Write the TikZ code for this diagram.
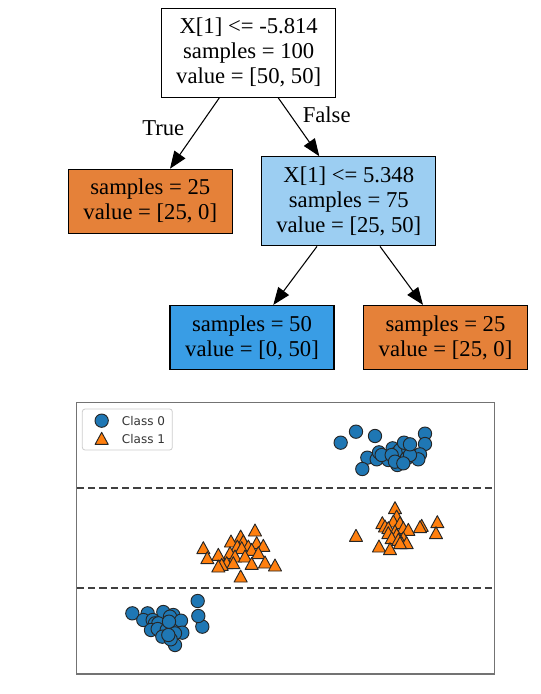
\documentclass[tikz,border=0pt]{standalone}
\usepackage{fontspec}
\setmainfont{Liberation Serif}
\newfontfamily\legendfont{DejaVu Sans}
\usepackage{tikz}
\usetikzlibrary{calc}
\usetikzlibrary{arrows.meta}
\definecolor{leafor}{RGB}{229,129,57}
\definecolor{leafbl}{RGB}{57,157,229}
\definecolor{splitbl}{RGB}{156,206,242}
\definecolor{tabblue}{RGB}{31,119,180}
\definecolor{taborange}{RGB}{255,127,14}
\newcommand{\dotA}[2]{ \draw[fill=tabblue, draw=black!85, line width=0.7pt] ( #1 , #2 ) circle (5pt);}
\newcommand{\triB}[2]{ \draw[fill=taborange, draw=black!85, line width=0.7pt, line join=round] ( #1 , #2 ) ++(0pt,5pt) -- ++(-4.9pt,-9pt) -- ++(9.8pt,0pt) -- cycle;}
\tikzset{
  treenode/.style={draw=black, line width=0.9pt, align=center, inner sep=0pt,
    font=\fontsize{17}{18.75}\selectfont},
  bignode/.style={treenode, minimum width=130.5pt, minimum height=66.75pt},
  leafnode/.style={treenode, minimum width=123pt, minimum height=48pt},
  edge/.style={line width=0.8pt, -{Triangle[length=13pt, width=10pt]}},
  edgelabel/.style={font=\fontsize{17}{18.75}\selectfont, inner sep=0pt}
}

\begin{document}
\begin{tikzpicture}[x=0.75pt, y=-0.75pt]
        \useasboundingbox (0,0) rectangle (541,694);

        % tree
        \node[bignode, fill=white] (root) at (248.7,52.8) {X[1] <= -5.814\\samples = 100\\value = [50, 50]};
        \node[leafnode, fill=leafor] (leafT) at (150.3,201.3) {samples = 25\\value = [25, 0]};
        \node[bignode, fill=splitbl] (split) at (348.8,201.3) {X[1] <= 5.348\\samples = 75\\value = [25, 50]};
        \node[leafnode, fill=leafbl] (leafL) at (252,337.5) {samples = 50\\value = [0, 50]};
        \node[leafnode, fill=leafor] (leafR) at (445.5,337.5) {samples = 25\\value = [25, 0]};

        \draw[edge] ($(root.south)+(-29.4,0)$) -- ($(leafT.north)+(19.7,0)$);
        \draw[edge] ($(root.south)+(29.6,0)$) -- ($(split.north)+(-29.5,0)$);
        \draw[edge] ($(split.south)+(-31.8,0)$) -- ($(leafL.north)+(21.3,0)$);
        \draw[edge] ($(split.south)+(31.2,0)$) -- ($(leafR.north)+(-22.5,0)$);
        \node[edgelabel] (lblT) at (163.3,127.7) {True};
        \node[edgelabel] (lblF) at (326.7,115) {False};

        % scatter
        \begin{scope}[x=0.25pt, y=-0.25pt, shift={(225,1200)}]
        \draw[black!55, line width=0.8pt] (5,8) rectangle (1258,822);
        \draw[black!75, line width=1.4pt, dash pattern=on 5.5pt off 3pt] (5,265) -- (1258,265);
        \draw[black!75, line width=1.4pt, dash pattern=on 5.5pt off 3pt] (5,565) -- (1258,565);

        % class 0, top right
        \dotA{797}{128} \dotA{843}{95} \dotA{900}{108} \dotA{1050}{101} \dotA{1050}{132}
        \dotA{877}{173} \dotA{862}{207} \dotA{905}{178} \dotA{912}{157} \dotA{940}{180}
        \dotA{953}{145} \dotA{965}{160} \dotA{967}{195} \dotA{975}{150} \dotA{920}{165}
        \dotA{950}{165} \dotA{1000}{150} \dotA{995}{175} \dotA{960}{185} \dotA{1035}{163}
        \dotA{1030}{178} \dotA{1005}{165} \dotA{987}{128} \dotA{1005}{133} \dotA{985}{190}
        % class 0, bottom left
        \dotA{172}{640} \dotA{218}{640} \dotA{205}{660} \dotA{233}{660} \dotA{265}{636}
        \dotA{295}{645} \dotA{285}{650} \dotA{240}{670} \dotA{260}{680} \dotA{310}{680}
        \dotA{250}{670} \dotA{318}{662} \dotA{228}{690} \dotA{248}{687} \dotA{275}{690}
        \dotA{322}{698} \dotA{300}{700} \dotA{262}{710} \dotA{300}{735} \dotA{287}{718}
        \dotA{280}{705} \dotA{282}{665} \dotA{368}{603} \dotA{382}{680} \dotA{370}{648}

        % class 1, middle left
        \triB{540}{392} \triB{497}{410} \triB{468}{425} \triB{505}{425} \triB{385}{445}
        \triB{545}{430} \triB{565}{438} \triB{487}{440} \triB{520}{440} \triB{500}{445}
        \triB{530}{450} \triB{465}{460} \triB{550}{460} \triB{430}{465} \triB{480}{470}
        \triB{510}{470} \triB{397}{475} \triB{455}{490} \triB{475}{490} \triB{570}{488}
        \triB{530}{492} \triB{440}{495} \triB{430}{500} \triB{600}{497} \triB{497}{530}
        % class 1, right
        \triB{960}{325} \triB{965}{350} \triB{955}{365} \triB{922}{370} \triB{975}{370}
        \triB{1087}{367} \triB{930}{380} \triB{1040}{378} \triB{1035}{382} \triB{940}{385}
        \triB{985}{385} \triB{1000}{390} \triB{960}{395} \triB{940}{400} \triB{1083}{400}
        \triB{965}{405} \triB{843}{408} \triB{950}{415} \triB{985}{415} \triB{970}{420}
        \triB{980}{430} \triB{995}{430} \triB{975}{430} \triB{912}{440} \triB{945}{448}

        % legend
        \draw[black!20, fill=white, line width=0.6pt, rounded corners=2pt] (22,27) rectangle (292,150);
        \dotA{80}{62}
        \triB{80}{117}
        \node[anchor=west, inner sep=0pt, text=black!80, font=\legendfont\fontsize{9}{10}\selectfont] (cls0) at (140,62) {Class 0};
        \node[anchor=west, inner sep=0pt, text=black!80, font=\legendfont\fontsize{9}{10}\selectfont] (cls1) at (140,117) {Class 1};
        \end{scope}
    \end{tikzpicture}
\end{document}
